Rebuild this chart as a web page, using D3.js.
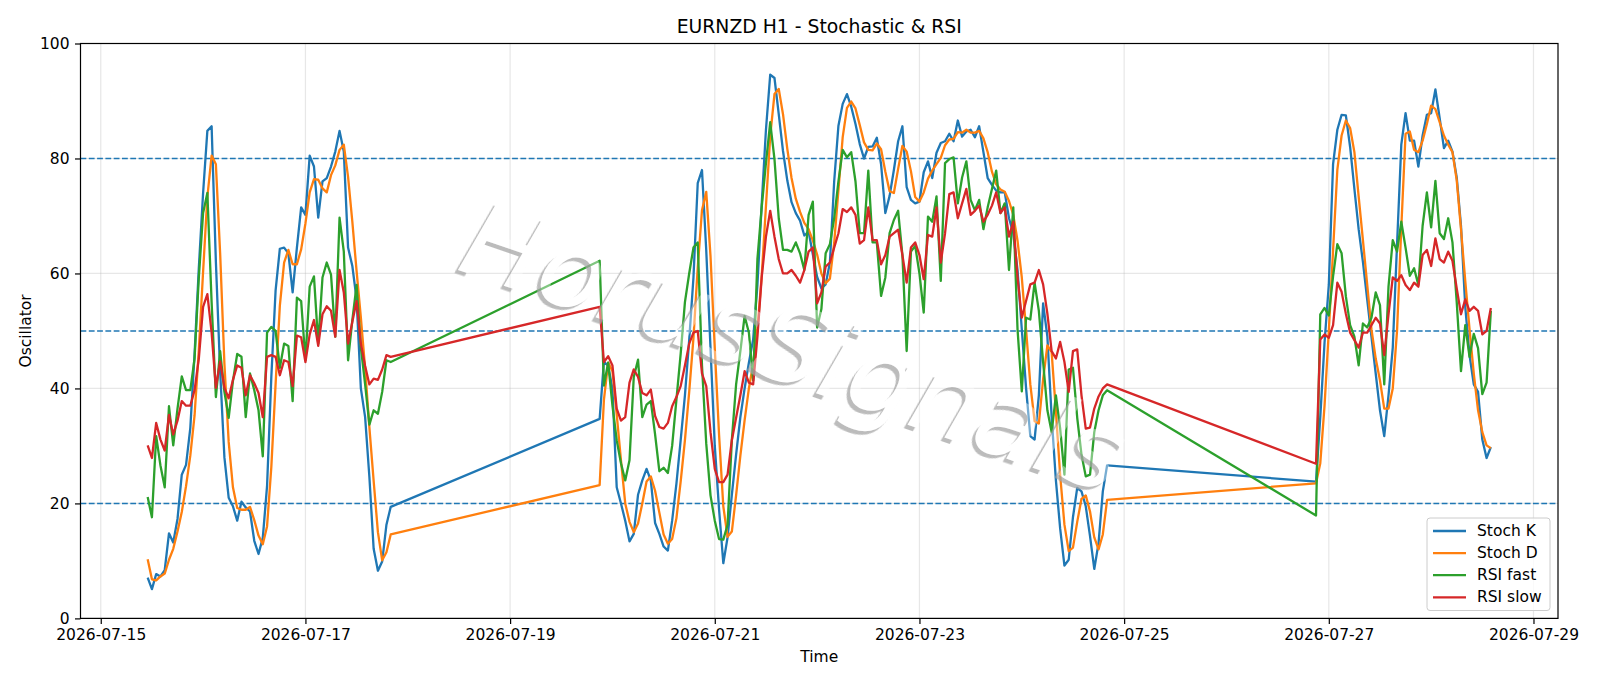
<!DOCTYPE html>
<html>
<head>
<meta charset="utf-8">
<script src="https://cdn.jsdelivr.net/npm/d3@7"></script>
<style>
body { margin: 0; background: #fff; }
svg { font-family: "DejaVu Sans", sans-serif; display: block; }
</style>
</head>
<body>
<div id="chart"></div>
<script>
// hourly sessions (weekend gaps between them)
const sessionStarts = ["2026-07-15T11:00:00Z", "2026-07-19T21:00:00Z", "2026-07-26T21:00:00Z"];
const sessionLengths = [58, 120, 42];

const stochK = [
  7.1, 5.1, 7.7, 7.3, 8.4, 14.8, 13.2, 17.3, 25, 26.7, 33.1, 46, 61, 74, 84.8, 85.6, 62, 43, 28, 21,
  19.5, 17, 20.3, 19.3, 18.6, 13.5, 11.2, 14, 23, 42, 57, 64.3, 64.5, 63.5, 56.7, 64.5, 71.5, 70.2, 80.5, 78.6,
  69.7, 76, 76.6, 78.6, 81.2, 84.8, 81.2, 64.5, 61.3, 55.5, 40, 35, 24.6, 12.1, 8.3, 9.9, 16.3, 19.4,
  34.7, 44.7, 43.9, 40, 22.8, 20, 17, 13.4, 14.7, 21.5, 24, 26, 24, 16.6, 14.7, 12.5, 11.8, 17, 23.4, 31,
  38.8, 48.4, 59.3, 75.7, 78, 64, 47, 30, 19, 9.6, 14.1, 21.5, 28.5, 35, 40, 44.5, 48.5, 58, 72, 85,
  94.6, 94, 87.7, 81.3, 76.2, 72.4, 70.5, 69.2, 66.6, 67.3, 63.3, 59.4, 57.4, 58.1, 61.9, 76, 85.7, 89.5, 91.2, 89,
  86, 82.5, 80, 82, 82.1, 83.6, 79, 70.5, 73.5, 78, 83, 85.6, 75, 72.8, 72.2, 72.5, 77.6, 79.5, 76.6, 81,
  82.7, 83, 84.3, 83, 86.6, 83.8, 84.7, 85, 83.7, 85.6, 81.1, 76.6, 75.4, 74.4, 74.1, 74.1, 69.6, 67, 60.6, 50.3,
  40.1, 31.7, 31.1, 38.8, 54.8, 49, 35, 24, 15.6, 9.2, 10.2, 17.6, 22.7, 22.1, 19.5, 14.3, 8.6, 13.1, 22.1, 26.6,
  23.8, 35, 48, 58, 79, 85, 87.6, 87.5, 82, 74.7, 67.7, 62, 55.5, 49, 42.6, 36.2, 31.7, 38.8, 47.1, 65,
  82.4, 87.9, 83.1, 83.1, 78.6, 84, 87.6, 87.9, 92, 87, 81.8, 83.1, 81.2, 76.7, 68.3, 54.2, 45.8, 40.7, 39.4, 31.1,
  27.9, 29.8
];

const stochD = [
  10.3, 6.8, 6.6, 7.3, 7.8, 10.2, 12.1, 15.1, 18.5, 23, 28.3, 35.3, 46.7, 60.3, 73.3, 80.5, 79, 63.5, 44.3, 30.7,
  22.8, 19.2, 18.9, 18.9, 19.4, 17.1, 14.4, 12.9, 16, 26.3, 40.7, 54.4, 61.9, 64.1, 61.6, 61.6, 64.2, 68.7, 74.1, 76.4,
  76.3, 74.8, 74.1, 77.1, 78.8, 81.5, 82.4, 76.8, 69, 60.4, 52.3, 43.5, 33.2, 23.9, 15, 10.1, 11.5, 14.6,
  23.2, 38, 44.5, 43, 35.5, 27.5, 20, 16.8, 15, 16.5, 20, 23.8, 24.7, 22.2, 18.4, 14.6, 13, 13.8, 17.4, 23.8,
  31, 39.4, 48.8, 61, 71, 74.2, 63, 47, 32, 19.5, 14.2, 15.1, 21.4, 28.3, 34.5, 40, 44.3, 50.3, 59.5, 71.7,
  83.9, 91.2, 92.1, 87.7, 81.7, 76.6, 73, 70.7, 68.8, 67.7, 65.7, 63.3, 60, 58.3, 59.1, 65.3, 74.5, 83.7, 88.8, 89.9,
  88.7, 85.8, 82.8, 81.5, 81.4, 82.6, 81.6, 77.7, 74.3, 74, 78.2, 82.2, 81.2, 77.8, 73.3, 72.5, 74.1, 76.5, 77.9, 79,
  80.1, 82.3, 83.3, 83.4, 84.6, 84.5, 85, 84.5, 84.5, 84.8, 83.5, 81.1, 77.7, 75.5, 74.6, 74.2, 72.6, 70.2, 65.7, 59.3,
  50.3, 40.7, 34.3, 33.9, 41.6, 47.5, 46.3, 36, 24.9, 16.3, 11.7, 12.3, 16.8, 20.8, 21.4, 18.6, 14.1, 12, 14.6, 20.6,
  23.5, 27, 37, 50, 64, 78, 84, 86.6, 85.3, 81.1, 73.4, 65.8, 58.1, 50.3, 45.2, 41.4, 36.5, 36.5, 40, 50,
  68, 84.3, 84.7, 81.5, 81.1, 83.1, 86, 89.2, 88.6, 86.3, 84, 82.4, 81.1, 76.2, 67.7, 58.7, 50.3, 42.6, 36.2, 32.4,
  30.1, 29.6
];

const rsiFast = [
  21.1, 17.6, 31.7, 26.6, 22.8, 36.9, 30.1, 36.5, 42.1, 39.7, 39.7, 45.2, 59.3, 70.5, 74, 55, 38.5, 46.5, 39.4, 34.9,
  41.3, 46, 45.5, 35, 42.6, 39.7, 36.2, 28.2, 49.7, 50.7, 50, 43.6, 47.8, 47.4, 37.8, 55.8, 55.2, 44.9, 57.7, 59.5,
  47.8, 59.3, 61.9, 59.8, 49, 69.7, 63.8, 44.9, 51.9, 58, 47.1, 40.7, 33.7, 36.2, 35.6, 39.4, 44.9, 44.6,
  62.2, 40.5, 44.5, 37, 31, 27, 24, 27.5, 42, 45, 35, 37.2, 37.8, 32, 25.6, 26.2, 25.3, 30, 38, 46,
  55, 60, 64.5, 65.4, 44, 30.4, 21.4, 17, 13.8, 13.7, 16.3, 31, 40.7, 46.5, 52.6, 49.7, 41.4, 62.5, 71.5, 79.2,
  86.3, 79.9, 69.6, 64.1, 64.1, 63.8, 65.4, 63.5, 60.6, 70.2, 72.5, 50.6, 53.8, 63.5, 65.1, 69.6, 76, 81.5, 80.2, 81.1,
  76, 67, 67, 77.9, 65.4, 65.4, 56.1, 59.3, 67, 69.3, 70.9, 63.2, 46.5, 63.8, 64.8, 60, 53.2, 69.9, 69, 73.4,
  58.7, 79.2, 79.9, 80.2, 72.2, 76.7, 79.5, 72.8, 71, 72.8, 67.7, 71.5, 74.7, 77.9, 70.5, 72.2, 60.6, 71.5, 50.3, 39.5,
  52.3, 52, 58.4, 53.5, 44.6, 36.2, 32.4, 38.8, 33, 25, 43.3, 43.6, 34.9, 28.5, 24.7, 25, 32.4, 36.2, 38.8, 39.7,
  17.9, 52.9, 54, 52.7, 59.5, 65.1, 63.5, 56, 51, 49, 44, 51.3, 50.6, 52.3, 56.7, 54.5, 40.7, 57.7, 65.8, 63.8,
  69, 64.5, 59.6, 60.9, 58, 68.3, 74.1, 68, 76.1, 67, 66, 69.6, 65.4, 55, 43, 51, 45.5, 49.5, 47, 39,
  41, 53.5
];

const rsiSlow = [
  30.1, 27.9, 34, 31.1, 29.2, 35.4, 32, 34.4, 37.8, 37, 37, 39.7, 45.2, 54.2, 56.4, 49.7, 40.1, 44.7, 40.1, 38.3,
  41.5, 44, 43.6, 38.8, 42.3, 40.9, 39.2, 35, 45.5, 45.8, 45.5, 42.3, 44.9, 44.6, 40.4, 49.2, 48.9, 44.6, 49.4, 51.9,
  47.4, 52.9, 54.3, 53.5, 49, 60.6, 56.7, 47.8, 51.6, 55.2, 47.8, 43.9, 40.7, 41.7, 41.5, 43.3, 45.8, 45.5,
  54.2, 44.6, 45.6, 44, 36.5, 34.4, 35, 41, 43.3, 42, 39.2, 38.8, 39.8, 35.2, 33.3, 33, 34, 36.9, 38.5, 40.4,
  44, 47.8, 49.7, 50, 42.6, 40.4, 32.4, 26, 23.7, 23.7, 25, 31, 34.9, 38.8, 43, 41, 40.7, 49, 59.3, 66.4,
  70.9, 66.4, 62.5, 60, 60, 60.6, 59.6, 58.4, 60.6, 63.8, 64.5, 54.8, 56.7, 61.2, 61.9, 64.5, 67, 71.2, 70.7, 71.5,
  70.2, 65.2, 65.8, 71.5, 65.8, 65.8, 61.6, 63.2, 66.4, 67, 67.6, 63.2, 58.4, 64.5, 65.4, 63.2, 59, 66.7, 66.4, 71.5,
  61.9, 67, 73.8, 74.1, 69.6, 72.2, 74.7, 70.2, 70.9, 71.8, 69, 70.2, 71.8, 74.1, 70.5, 71.5, 66.4, 69, 59.3, 52.3,
  55.2, 58.1, 58.4, 60.6, 58.1, 53, 46.5, 45.2, 48.1, 44.6, 39.4, 46.5, 46.8, 38.8, 33, 33.2, 36.5, 38.6, 40, 40.7,
  26.9, 48.5, 49.4, 48.8, 51, 58.4, 56.8, 53, 49.7, 48.4, 47.1, 49.7, 49.7, 51, 52.3, 51.3, 45.8, 52.9, 59.3, 58.7,
  59.7, 58, 57.1, 58.4, 57.7, 63.2, 64.1, 61.3, 66.1, 62.5, 61.9, 63.8, 62.2, 57.4, 52.9, 55.5, 53.5, 54.2, 53.5, 49.4,
  50, 54
];

const seriesNames = ["Stoch K", "Stoch D", "RSI fast", "RSI slow"];
const seriesValues = [stochK, stochD, rsiFast, rsiSlow];
const tickDates = ["2026-07-15", "2026-07-17", "2026-07-19", "2026-07-21", "2026-07-23", "2026-07-25", "2026-07-27", "2026-07-29"];
const yTicks = [0, 20, 40, 60, 80, 100];
const levels = [20, 50, 80];

(function chart(){
const width = 1600,
  height = 686,
  margin = {top: 43.5, right: 42, bottom: 67.6, left: 80.5};

const svg = d3.select("#chart")
  .append("svg")
  .attr("width", width)
  .attr("height", height)
  .attr("viewBox", [0, 0, width, height]);

const times = sessionStarts.flatMap((s, k) =>
  d3.range(sessionLengths[k]).map(h => d3.utcHour.offset(new Date(s), h)));

const [t0, t1] = d3.extent(times);
const pad = (t1 - t0) * 0.05;

let x = d3.scaleUtc([new Date(+t0 - pad), new Date(+t1 + pad)], [margin.left, width - margin.right]);
let y = d3.scaleLinear([0, 100], [height - margin.bottom, margin.top]);

const color = d3.scaleOrdinal(seriesNames, ["#1f77b4", "#ff7f0e", "#2ca02c", "#d62728"]);
const ticks = tickDates.map(d => new Date(d + "T00:00:00Z"));

// grid
svg.append("g")
  .selectAll("line")
  .data(ticks)
  .join("line")
  .attr("x1", d => x(d)).attr("x2", d => x(d))
  .attr("y1", margin.top).attr("y2", height - margin.bottom)
  .attr("stroke", "#b0b0b0").attr("stroke-opacity", 0.3).attr("stroke-width", 1.2);

svg.append("g")
  .selectAll("line")
  .data(yTicks)
  .join("line")
  .attr("x1", margin.left).attr("x2", width - margin.right)
  .attr("y1", d => y(d)).attr("y2", d => y(d))
  .attr("stroke", "#b0b0b0").attr("stroke-opacity", 0.3).attr("stroke-width", 1.2);

// level lines
svg.append("g")
  .selectAll("line")
  .data(levels)
  .join("line")
  .attr("x1", margin.left).attr("x2", width - margin.right)
  .attr("y1", d => y(d)).attr("y2", d => y(d))
  .attr("stroke", "#1f77b4").attr("stroke-width", 1.5)
  .attr("stroke-dasharray", "5.8,2.5");

svg.append("clipPath").attr("id", "plot-clip")
  .append("rect")
  .attr("x", margin.left).attr("y", margin.top)
  .attr("width", width - margin.left - margin.right)
  .attr("height", height - margin.top - margin.bottom);

const line = d3.line()
  .x(d => x(d[0]))
  .y(d => y(d[1]));

svg.append("g")
  .attr("clip-path", "url(#plot-clip)")
  .selectAll("path")
  .data(seriesNames)
  .join("path")
  .attr("fill", "none")
  .attr("stroke", d => color(d))
  .attr("stroke-width", 2.3)
  .attr("stroke-linejoin", "round")
  .attr("d", (d, i) => line(times.map((t, j) => [t, seriesValues[i][j]])));

// watermark: white text over an offset grey shadow, only the shadow rim shows
const wm = svg.append("g")
  .attr("transform", "translate(794,347) rotate(19)")
  .attr("font-size", 106)
  .attr("font-style", "italic")
  .attr("text-anchor", "middle")
  .attr("dominant-baseline", "central");

const blur = wm.append("filter").attr("id", "wm-blur")
  .attr("x", "-10%").attr("y", "-30%").attr("width", "120%").attr("height", "160%");
blur.append("feGaussianBlur").attr("stdDeviation", 0.7);

const mask = wm.append("mask").attr("id", "wm-mask")
  .attr("maskUnits", "userSpaceOnUse")
  .attr("x", -900).attr("y", -300).attr("width", 1800).attr("height", 600);
mask.append("rect")
  .attr("x", -900).attr("y", -300).attr("width", 1800).attr("height", 600)
  .attr("fill", "#fff");
mask.append("text").attr("fill", "#000").text("HorusSignals");

wm.append("g")
  .attr("mask", "url(#wm-mask)")
  .append("text")
  .attr("x", -2.4).attr("y", 4.4)
  .attr("fill", "#a6a6a6").attr("fill-opacity", 0.75)
  .attr("filter", "url(#wm-blur)")
  .text("HorusSignals");

wm.append("text")
  .attr("fill", "#ffffff").attr("fill-opacity", 0.4)
  .text("HorusSignals");

// axes
const xAxis = svg.append("g")
  .attr("transform", `translate(0,${height - margin.bottom})`)
  .call(d3.axisBottom(x).tickValues(ticks).tickFormat(d3.utcFormat("%Y-%m-%d")).tickSize(5.5).tickPadding(5.5));

const yAxis = svg.append("g")
  .attr("transform", `translate(${margin.left},0)`)
  .call(d3.axisLeft(y).tickValues(yTicks).tickSize(5.5).tickPadding(5.5));

[xAxis, yAxis].forEach(g => {
  g.select(".domain").remove();
  g.selectAll("line").attr("stroke", "#000").attr("stroke-width", 1.2);
  g.selectAll("text").attr("font-size", 15.5).attr("fill", "#000")
    .attr("font-family", "DejaVu Sans, sans-serif");
});

svg.append("rect")
  .attr("x", margin.left).attr("y", margin.top)
  .attr("width", width - margin.left - margin.right)
  .attr("height", height - margin.top - margin.bottom)
  .attr("fill", "none").attr("stroke", "#000").attr("stroke-width", 1.2);

// titles
svg.append("text")
  .attr("x", (margin.left + width - margin.right) / 2)
  .attr("y", 33)
  .attr("text-anchor", "middle")
  .attr("font-size", 18.8)
  .text("EURNZD H1 - Stochastic & RSI");

svg.append("text")
  .attr("x", (margin.left + width - margin.right) / 2)
  .attr("y", 662)
  .attr("text-anchor", "middle")
  .attr("font-size", 15.5)
  .text("Time");

svg.append("text")
  .attr("transform", `translate(25.5,${(margin.top + height - margin.bottom) / 2}) rotate(-90)`)
  .attr("text-anchor", "middle")
  .attr("dominant-baseline", "central")
  .attr("font-size", 15.5)
  .text("Oscillator");

// legend
const lgX = 1427, lgY = 518;
svg.append("rect")
  .attr("x", lgX).attr("y", lgY)
  .attr("width", 123).attr("height", 92.5)
  .attr("rx", 3)
  .attr("fill", "#fff").attr("fill-opacity", 0.8)
  .attr("stroke", "#cccccc");

let legendGroup = svg
  .selectAll(".legend-group")
  .data(seriesNames)
  .join("g")
  .attr("class", "legend-group")
  .attr("transform", (d, i) => `translate(${lgX},${lgY + 13 + i * 22.1})`);

legendGroup.append("line")
  .attr("x1", 6).attr("x2", 39)
  .attr("stroke", d => color(d))
  .attr("stroke-width", 2.3);

legendGroup.append("text")
  .attr("x", 50)
  .attr("dominant-baseline", "central")
  .attr("font-size", 15.5)
  .text(d => d);

})();
</script>
</body>
</html>
